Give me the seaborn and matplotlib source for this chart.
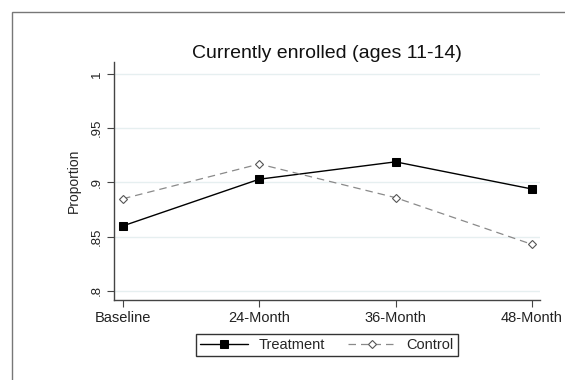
import matplotlib
matplotlib.use("Agg")
import matplotlib.pyplot as plt
import seaborn as sns
import pandas as pd
from matplotlib.patches import Rectangle

# Survey rounds and enrolment proportions by study arm
rounds = ["Baseline", "24-Month", "36-Month", "48-Month"]
treatment = [0.860, 0.903, 0.919, 0.894]
control = [0.885, 0.917, 0.886, 0.843]
y_ticks = [0.8, 0.85, 0.9, 0.95, 1.0]
y_tick_labels = [".8", ".85", ".9", ".95", "1"]

sns.set_theme(style="white")
plt.rcParams["font.family"] = ["Liberation Sans", "DejaVu Sans"]

df = pd.DataFrame({
    "round": list(range(len(rounds))) * 2,
    "value": treatment + control,
    "group": ["Treatment"] * len(rounds) + ["Control"] * len(rounds),
})

fig = plt.figure(figsize=(5.65, 3.8), dpi=100)
ax = fig.add_axes([114 / 565, 1 - 300 / 380, (540 - 114) / 565, (300 - 62) / 380])

sns.lineplot(
    data=df[df.group == "Treatment"], x="round", y="value", ax=ax,
    color="black", linewidth=1.0, marker="s", markersize=5.5,
    markerfacecolor="black", markeredgecolor="black", label="Treatment",
)
sns.lineplot(
    data=df[df.group == "Control"], x="round", y="value", ax=ax,
    color="#8a8a8a", linewidth=0.9, marker="D", markersize=4,
    markerfacecolor="white", markeredgecolor="#555555", markeredgewidth=0.8,
    label="Control",
)
ax.lines[-1].set_dashes([6, 4])

ax.set_xlim(-0.066, 3.06)
ax.set_ylim(0.7917, 1.011)
ax.set_xticks(range(len(rounds)))
ax.set_xticklabels(rounds, fontsize=10.5)
ax.set_yticks(y_ticks)
ax.set_yticklabels(y_tick_labels, fontsize=9.5, rotation=90, va="center")
ax.set_xlabel("")
ax.set_ylabel("Proportion", fontsize=10, labelpad=7)

for y in y_ticks:
    ax.axhline(y, color="#e6eff0", linewidth=1.0, zorder=0)

for side in ["top", "right"]:
    ax.spines[side].set_visible(False)
for side in ["left", "bottom"]:
    ax.spines[side].set_color("#444444")
    ax.spines[side].set_linewidth(1.0)
ax.tick_params(axis="both", which="major", length=5, width=0.8, color="#444444",
               bottom=True, left=True, labelcolor="#222222")
ax.tick_params(axis="y", pad=3)
ax.tick_params(axis="x", pad=3)

ax.set_title("Currently enrolled (ages 11-14)", fontsize=14, pad=3, color="#111111")

leg = ax.legend(
    loc="center", bbox_to_anchor=(327 / 565, 1 - 345 / 380),
    bbox_transform=fig.transFigure, ncol=2, frameon=True, fancybox=False,
    fontsize=10.5, handlelength=3.3, columnspacing=1.6, borderpad=0.3,
    handletextpad=0.7,
)
leg.get_frame().set_edgecolor("black")
leg.get_frame().set_linewidth(1.0)

# Outer graph frame
fig.patches.append(Rectangle((11.5 / 565, -0.05), 1.2, 1 - 11.5 / 380 + 0.05,
                             transform=fig.transFigure, fill=False,
                             edgecolor="#777777", linewidth=1.0))

fig.savefig("out.png", dpi=100)
